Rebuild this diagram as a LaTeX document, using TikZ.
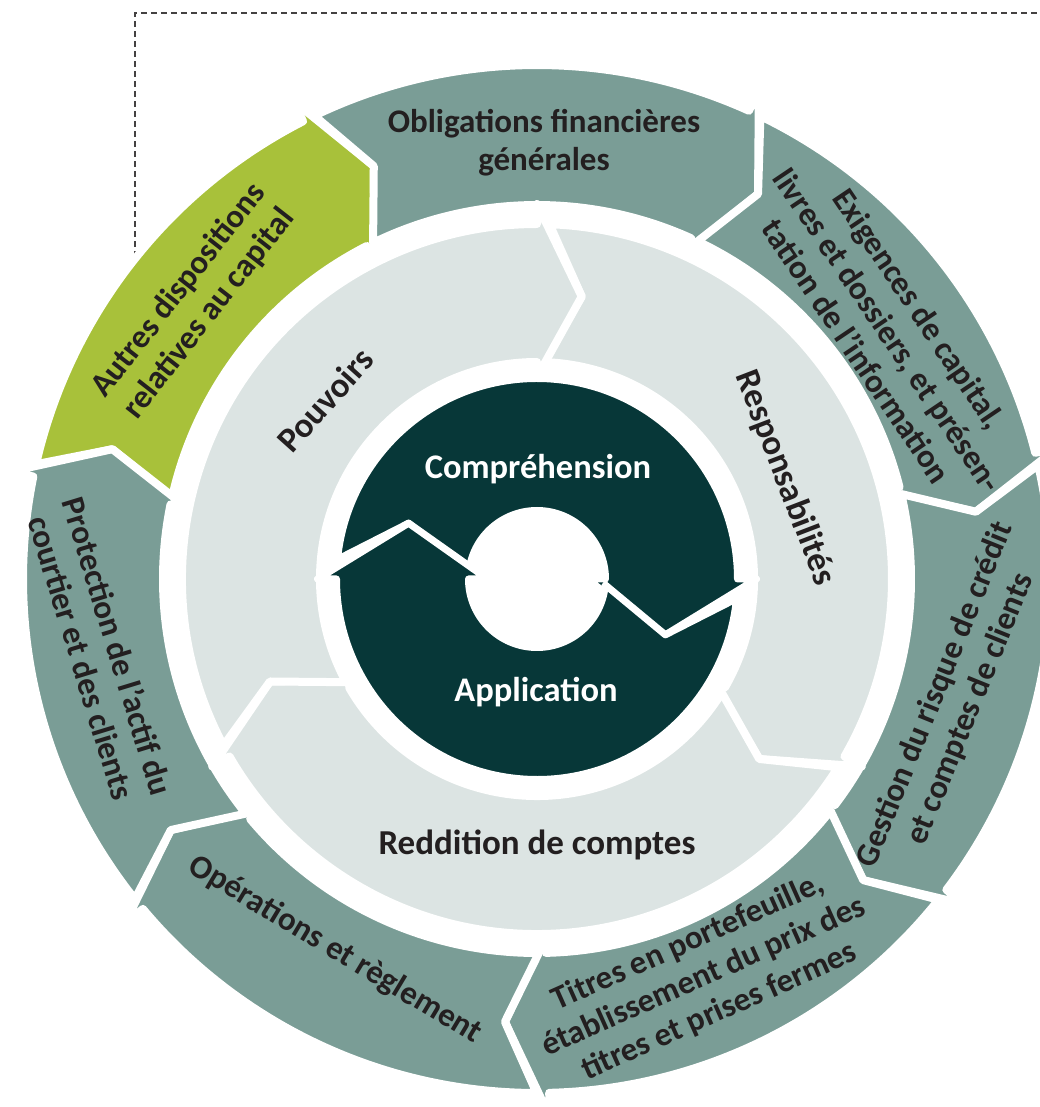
\documentclass[tikz,border=0pt]{standalone}
\usepackage{fontspec}
\setmainfont{Carlito}
\usepackage{tikz}
\definecolor{verdeAcqua}{HTML}{7A9D96}
\definecolor{verdeLime}{HTML}{A8C13A}
\definecolor{grigioChiaro}{HTML}{DCE4E3}
\definecolor{verdeScuro}{HTML}{073738}
\definecolor{inchiostro}{HTML}{231F20}
% settore ad arco con punta: {angolo iniziale}{angolo finale}{colore}
\newcommand{\settore}[3]{
\fill[#3, draw=white, line width=\gap pt, line join=round]
    ({#1+\fest*\dang}:\rest) arc[start angle={#1+\fest*\dang}, end angle={#2+\dang}, radius=\rest]
    -- ({#2+\dang}:{\rest+\eest}) -- ({#2}:\rmed) -- ({#2+\dang}:{\rint-\eint}) -- ({#2+\dang}:\rint)
    arc[start angle={#2+\dang}, end angle={#1+\fint*\dang}, radius=\rint]
    -- ({#1}:\rmed) -- cycle;
}

\begin{document}
\begin{tikzpicture}[x=1pt, y=1pt,
    testoEst/.style={text=inchiostro, font=\fontsize{33}{38}\selectfont\bfseries, align=center},
    testoMed/.style={text=inchiostro, font=\fontsize{35}{40}\selectfont\bfseries, align=center},
    testoInt/.style={text=white, font=\fontsize{34.5}{40}\selectfont\bfseries, align=center},
    tratteggio/.style={draw=inchiostro!85, line width=2pt, dash pattern=on 6pt off 4pt}]
    \useasboundingbox (-537,-528) rectangle (503,579);
    \clip (-537,-528) rectangle (503,579);
    % Cornice tratteggiata
    \coordinate (fineBasso) at (-402,312);
    \coordinate (angolo) at (-402,566);
    \coordinate (fineAlto) at (503,566);
    \draw[tratteggio] (fineBasso) -- (angolo) -- (fineAlto);
    % Anello esterno
    \pgfmathsetmacro{\gap}{8}
    \pgfmathsetmacro{\rint}{374}
    \pgfmathsetmacro{\rest}{514}
    \pgfmathsetmacro{\rmed}{444}
    \pgfmathsetmacro{\eest}{24}
    \pgfmathsetmacro{\eint}{17}
    \pgfmathsetmacro{\dang}{5.5}
    \pgfmathsetmacro{\fest}{1-\eest/(\eest+\rest-\rmed)}
    \pgfmathsetmacro{\fint}{1-\eint/(\eint+\rmed-\rint)}
    \settore{163}{111.57}{verdeLime}
    \settore{111.57}{60.14}{verdeAcqua}
    \settore{60.14}{8.71}{verdeAcqua}
    \settore{8.71}{-42.71}{verdeAcqua}
    \settore{-42.71}{-94.14}{verdeAcqua}
    \settore{-94.14}{-145.57}{verdeAcqua}
    \settore{-145.57}{-197}{verdeAcqua}
    % Anello intermedio
    \pgfmathsetmacro{\rint}{217}
    \pgfmathsetmacro{\rest}{355}
    \pgfmathsetmacro{\rmed}{286}
    \pgfmathsetmacro{\eest}{20}
    \pgfmathsetmacro{\eint}{15}
    \pgfmathsetmacro{\dang}{9}
    \pgfmathsetmacro{\fest}{1-\eest/(\eest+\rest-\rmed)}
    \pgfmathsetmacro{\fint}{1-\eint/(\eint+\rmed-\rint)}
    \settore{81}{-39}{grigioChiaro}
    \settore{-39}{-159}{grigioChiaro}
    \settore{-159}{-279}{grigioChiaro}
    % Anello interno
    \pgfmathsetmacro{\gap}{7}
    \pgfmathsetmacro{\rint}{68.5}
    \pgfmathsetmacro{\rest}{200.5}
    \pgfmathsetmacro{\rmed}{140}
    \pgfmathsetmacro{\eest}{19}
    \pgfmathsetmacro{\eint}{19}
    \pgfmathsetmacro{\dang}{23.5}
    \pgfmathsetmacro{\fest}{1-\eest/(\eest+\rest-\rmed)}
    \pgfmathsetmacro{\fint}{1-\eint/(\eint+\rmed-\rint)}
    \settore{156.5}{-23.5}{verdeScuro}
    \settore{-23.5}{-203.5}{verdeScuro}
    % Testi anello esterno
    \node[testoEst] (obblighi) at (7,436) {Obligations financières\\générales};
    \node[testoEst, rotate=52] (autres) at (-343,277) {Autres dispositions\\relatives au capital};
    \node[testoEst, rotate=-56] (exigences) at (351,249) {Exigences de capital,\\livres et dossiers, et présen-\\tation de l’information};
    \node[testoEst, rotate=68] (gestion) at (416,-123) {Gestion du risque de crédit\\et comptes de clients};
    \node[testoEst, rotate=24] (titres) at (167,-398) {Titres en portefeuille,\\établissement du prix des\\titres et prises fermes};
    \node[testoEst, rotate=-31] (operations) at (-202,-371) {Opérations et règlement};
    \node[testoEst, rotate=-73] (protection) at (-437,-73) {Protection de l’actif du\\courtier et des clients};
    % Testi anello intermedio
    \node[testoMed, rotate=48] (pouvoirs) at (-212,179) {Pouvoirs};
    \node[testoMed, rotate=-69] (responsab) at (248,101) {Responsabilités};
    \node[testoMed] (reddition) at (0,-266) {Reddition de comptes};
    % Testi centro
    \node[testoInt] (comprehension) at (1,110) {Compréhension};
    \node[testoInt] (application) at (-1,-113) {Application};
\end{tikzpicture}
\end{document}
